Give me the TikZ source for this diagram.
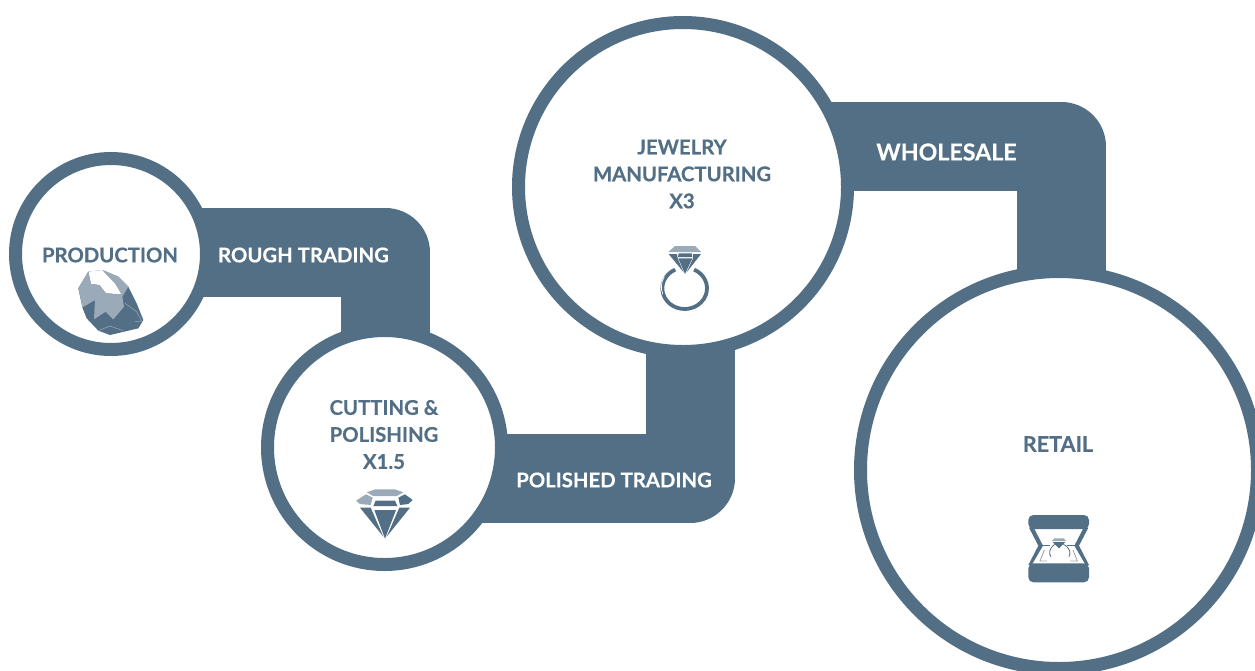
\documentclass[tikz,border=0pt]{standalone}
\usepackage{fontspec}
\setmainfont[BoldFeatures={FakeBold=0.35}]{Lato}
\usetikzlibrary{backgrounds}
\definecolor{slate}{HTML}{526F86}
\definecolor{stone}{HTML}{9AAAB8}
\tikzset{
  x=1pt,y=-1pt,
  stage/.style={circle,draw=slate,fill=white,line width=13pt,inner sep=0pt,outer sep=0pt},
  band/.style={draw=slate,line width=89pt,line join=round},
  darklabel/.style={text=slate,font=\bfseries\fontsize{20.3}{27}\selectfont,align=center,inner sep=0pt},
  whitelabel/.style={text=white,font=\bfseries\fontsize{20.3}{27}\selectfont,align=center,inner sep=0pt},
  icon/.style={x=0.33333pt,y=-0.33333pt},
  dk/.style={fill=slate,draw=none},
  lt/.style={fill=stone,draw=none}
}
\begin{document}
\begin{tikzpicture}
\useasboundingbox (0,0) rectangle (1255,670);
\node[stage,minimum size=191pt] (prod) at (111,254) {};
\node[stage,minimum size=234pt] (cut) at (384.5,447.5) {};
\node[stage,minimum size=329pt] (jew) at (683,187) {};
\node[stage,minimum size=397pt] (ret) at (1059,470) {};
\coordinate (c1) at (385,252);
\coordinate (c2) at (690,478.5);
\coordinate (c3) at (1061,146);
\begin{pgfonlayer}{background}
\draw[band] (prod.center |- c1) -- (c1) -- (c1 |- cut.center);
\draw[band] (cut.center |- c2) -- (c2) -- (c2 |- jew.center);
\draw[band] (jew.center |- c3) -- (c3) -- (c3 |- ret.center);
\end{pgfonlayer}
\node[darklabel] (t1) at (110,255) {PRODUCTION};
\node[darklabel] (t2) at (384,434.5) {CUTTING \&\\POLISHING\\X1.5};
\node[darklabel] (t3) at (682,174) {JEWELRY\\MANUFACTURING\\X3};
\node[darklabel,font=\bfseries\fontsize{21.6}{27}\selectfont] (t4) at (1058,444) {RETAIL};
\node[whitelabel] (w1) at (303.5,255) {ROUGH TRADING};
\node[whitelabel] (w2) at (614,480) {POLISHED TRADING};
\node[whitelabel,font=\bfseries\fontsize{23.2}{27}\selectfont] (w3) at (946.5,152) {WHOLESALE};
% rough stone
\begin{scope}[shift={(60,260)},icon]
\fill[dk] (85,35)--(55,85)--(68,145)--(80,175)--(115,212)--(150,225)--(235,205)--(250,180)--(230,130)--(205,80)--(175,50)--(127,30)--cycle;
\fill[white] (85,35)--(93,72)--(118,75)--(138,100)--(185,103)--(165,70)--(127,30)--cycle;
\fill[lt] (85,35)--(93,72)--(118,75)--(138,100)--(185,103)--(165,70)--(127,30)--(175,50)--(205,80)--(187,110)--(192,140)--(160,178)--(137,155)--(102,178)--(105,120)--(68,142)--(55,85)--cycle;
\draw[stone,line width=0.5pt] (115,212)--(150,198)--(190,212) (195,130)--(230,155)--(245,183)--(225,185);
\end{scope}
% diamond
\begin{scope}[shift={(340,480)},icon]
\fill[lt] (80,37)--(105,28)--(165,28)--(190,37)--(170,48)--(100,48)--cycle;
\fill[lt] (48,62)--(78,43)--(98,53)--(92,75)--(60,72)--cycle;
\fill[dk] (107,62)--(165,62)--(172,78)--(100,78)--cycle;
\fill[dk] (175,53)--(195,43)--(218,60)--(205,72)--(180,75)--cycle;
\fill[dk] (60,83)--(92,83)--(130,170)--cycle;
\fill[dk] (103,90)--(168,90)--(135,176)--cycle;
\fill[dk] (178,83)--(210,83)--(140,170)--cycle;
\end{scope}
% ring
\begin{scope}[shift={(640,235)},icon]
\draw[slate,line width=3.8pt] (105.7,103.8) arc[start angle=245,delta angle=-310,x radius=67,y radius=62];
\draw[white,line width=0.7pt] (73,125) arc[start angle=210,delta angle=-50,x radius=67,y radius=62];
\fill[lt] (105,33)--(165,33)--(183,51)--(85,51)--cycle;
\fill[dk] (86,57)--(111,57)--(113,70)--(131,112)--cycle;
\fill[dk] (116,55)--(155,55)--(157,66)--(114,66)--cycle;
\fill[dk] (115,70)--(157,70)--(135,117)--cycle;
\fill[dk] (159,57)--(183,57)--(140,112)--(159,70)--cycle;
\end{scope}
% jewel box
\begin{scope}[shift={(1015,505)},icon]
\fill[dk,rounded corners=5pt] (40,30) rectangle (222,72);
\fill[dk,rounded corners=5pt] (40,175) rectangle (222,232);
\fill[dk] (42,68)--(56,68)--(84,122)--(50,180)--(40,180)--(70,122)--cycle;
\fill[dk] (220,68)--(206,68)--(178,122)--(212,180)--(222,180)--(192,122)--cycle;
\draw[slate,line width=0.9pt] (78,122)--(105,122) (157,122)--(184,122);
\draw[stone,line width=0.9pt] (88,135)--(75,168)--(96,168) (174,135)--(187,168)--(166,168);
\draw[slate,line width=0.8pt] (120,118) .. controls (100,130) and (102,148) .. (108,155);
\draw[slate,line width=0.8pt] (145,118) .. controls (166,128) and (168,145) .. (162,155);
\fill[lt] (118,100)--(146,100)--(153,108)--(111,108)--cycle;
\fill[dk] (113,111)--(151,111)--(132,130)--cycle;
\end{scope}
\end{tikzpicture}
\end{document}
